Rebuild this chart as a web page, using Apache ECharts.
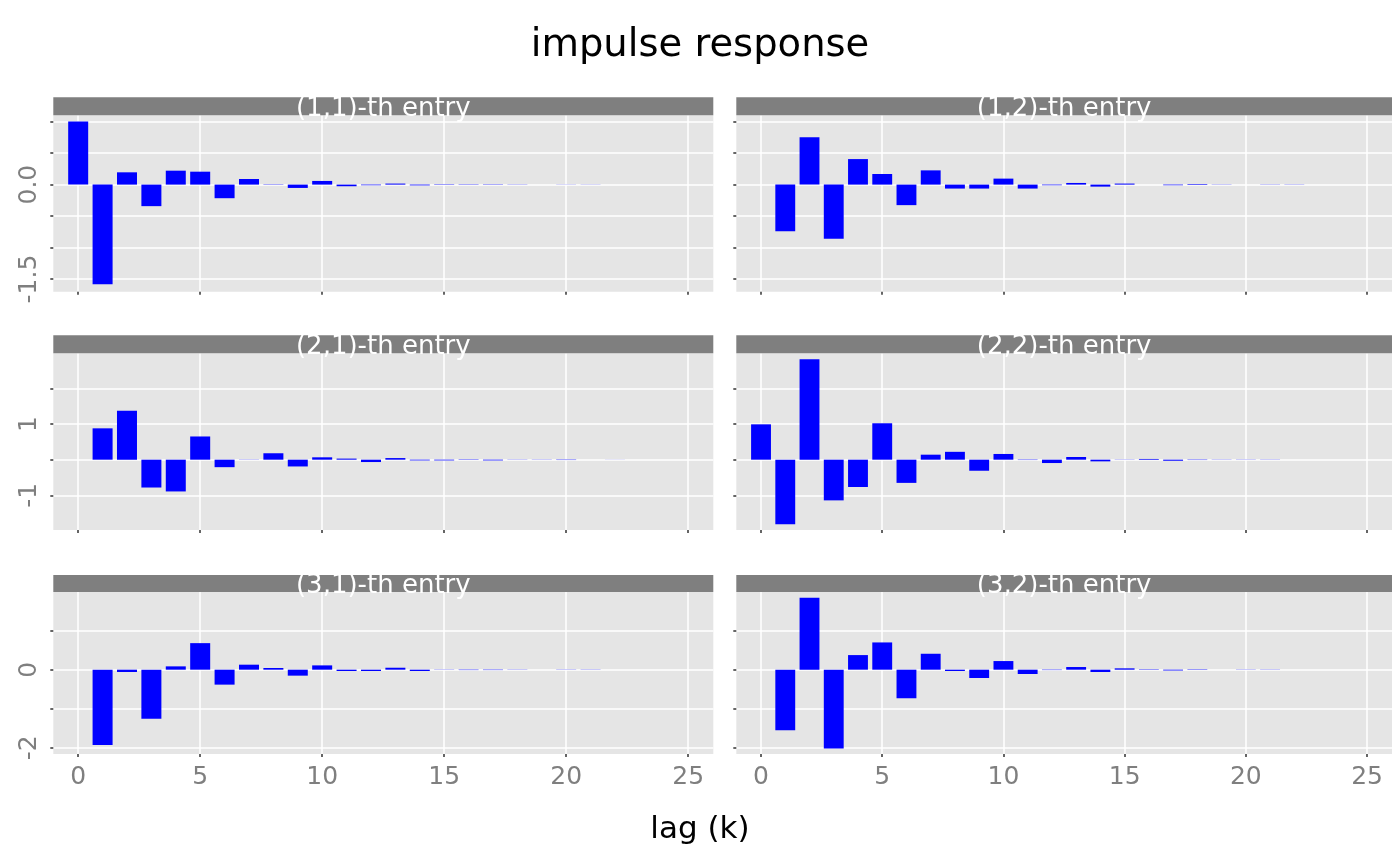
<!DOCTYPE html>
<html>
<head>
<meta charset="utf-8">
<script src="https://cdn.jsdelivr.net/npm/echarts@6/dist/echarts.min.js"></script>
<style>html,body{margin:0;padding:0;background:#ffffff}#chart{width:1400px;height:866px}</style>
</head>
<body>
<div id="chart"></div>
<script>
// ---------------- data ----------------
const lags = [0,1,2,3,4,5,6,7,8,9,10,11,12,13,14,15,16,17,18,19,20,21,22,23,24,25];

const entry11 = [1.00,-1.58,0.195,-0.342,0.221,0.205,-0.216,0.089,0.005,-0.053,0.058,-0.026,-0.010,0.016,-0.012,0.006,-0.005,0.005,0.003,0.000,-0.002,0.002,0.000,0.000,0.000,0.000];
const entry12 = [0.00,-0.742,0.753,-0.858,0.405,0.168,-0.326,0.226,-0.063,-0.063,0.095,-0.063,-0.010,0.026,-0.032,0.016,0.000,-0.010,0.010,0.003,0.000,0.003,-0.003,0.000,0.000,0.000];
const entry21 = [0.00,0.878,1.37,-0.78,-0.89,0.65,-0.21,0.005,0.18,-0.19,0.066,0.030,-0.066,0.045,-0.020,-0.020,0.010,-0.020,-0.005,-0.005,-0.010,0.000,0.002,0.000,0.000,0.000];
const entry22 = [0.99,-1.81,2.81,-1.14,-0.765,1.02,-0.65,0.14,0.22,-0.31,0.16,-0.010,-0.094,0.075,-0.047,0.005,0.020,-0.030,-0.010,0.005,0.005,0.005,0.000,0.000,0.000,0.000];
const entry31 = [0.00,-1.93,-0.06,-1.26,0.085,0.68,-0.383,0.128,0.043,-0.153,0.11,-0.034,-0.034,0.050,-0.034,0.005,-0.010,-0.010,0.005,0.000,0.005,0.005,0.000,0.000,0.000,0.000];
const entry32 = [0.00,-1.55,1.84,-2.02,0.374,0.698,-0.732,0.408,-0.034,-0.213,0.221,-0.110,-0.010,0.068,-0.060,0.034,0.010,-0.020,0.010,0.000,0.005,0.005,0.000,0.000,0.000,0.000];

const stripLabels = ['(1,1)-th entry','(1,2)-th entry','(2,1)-th entry','(2,2)-th entry','(3,1)-th entry','(3,2)-th entry'];
const titleText = 'impulse response';
const xAxisTitle = 'lag (k)';

const xTicks = [0,5,10,15,20,25];
const xLabels = ['0','5','10','15','20','25'];

const yTicksRow1 = [-1.5,-1,-0.5,0,0.5,1];
const yLabelValuesRow1 = [-1.5,0];
const yLabelTextRow1 = ['-1.5','0.0'];
const yTicksRow2 = [-1,0,1,2];
const yLabelValuesRow2 = [-1,1];
const yLabelTextRow2 = ['-1','1'];
const yTicksRow3 = [-2,-1,0,1];
const yLabelValuesRow3 = [-2,0];
const yLabelTextRow3 = ['-2','0'];

// ---------------- layout / style ----------------
const FONT = 'DejaVu Sans';
const cols = [{left:53.3,width:660},{left:736.3,width:655.7}];
const rows = [
  {top:115.3,height:176.4,stripTop:97.3,stripH:18,yMin:-1.70,yMax:1.10,step:0.5,ticks:yTicksRow1,lv:yLabelValuesRow1,lt:yLabelTextRow1},
  {top:353.3,height:176.7,stripTop:335.3,stripH:18,yMin:-1.97,yMax:2.98,step:1,ticks:yTicksRow2,lv:yLabelValuesRow2,lt:yLabelTextRow2},
  {top:592,height:162,stripTop:575,stripH:17,yMin:-2.16,yMax:1.99,step:1,ticks:yTicksRow3,lv:yLabelValuesRow3,lt:yLabelTextRow3}
];
const panelData = [entry11,entry12,entry21,entry22,entry31,entry32];
const xMin = -1.02, xMax = 26.03;

const grids = [], xAxes = [], yAxes = [], series = [], graphics = [];
rows.forEach((r, ri) => {
  cols.forEach((c, ci) => {
    const idx = ri*2 + ci;
    grids.push({left:c.left, top:r.top, width:c.width, height:r.height,
      show:true, backgroundColor:'#e5e5e5', borderWidth:0, containLabel:false});
    const bottomRow = ri === rows.length-1;
    xAxes.push({
      type:'value', gridIndex:idx, min:xMin, max:xMax, minInterval:5, maxInterval:5,
      axisLine:{show:false, onZero:false},
      axisTick:{show:true, inside:false, length:3, lineStyle:{color:'#333333', width:1.5}, customValues:xTicks},
      axisLabel:{show:bottomRow, customValues:xTicks, margin:11, color:'#7f7f7f', fontSize:25, lineHeight:25, fontFamily:FONT,
        formatter: v => { const i = xTicks.indexOf(Math.round(v*1000)/1000); return i>=0 ? xLabels[i] : ''; }},
      splitLine:{show:true, lineStyle:{color:'#ffffff', width:1.5}}
    });
    yAxes.push({
      type:'value', gridIndex:idx, min:r.yMin, max:r.yMax, minInterval:r.step, maxInterval:r.step,
      axisLine:{show:false, onZero:false},
      axisTick:{show:true, inside:false, length:3, lineStyle:{color:'#333333', width:1.5}, customValues:r.ticks},
      axisLabel:{show:ci===0, customValues:r.lv, rotate:90, margin:11, color:'#7f7f7f', fontSize:25, lineHeight:25, fontFamily:FONT,
        formatter: v => { const i = r.lv.indexOf(Math.round(v*1000)/1000); return i>=0 ? r.lt[i] : ''; }},
      splitLine:{show:true, lineStyle:{color:'#ffffff', width:1.5}}
    });
    series.push({
      type:'bar', xAxisIndex:idx, yAxisIndex:idx, barWidth:'82%',
      itemStyle:{color:'#0000ff'},
      data: lags.map((k, j) => [k, panelData[idx][j]])
    });
    graphics.push({type:'rect', shape:{x:c.left, y:r.stripTop, width:c.width, height:r.stripH},
      style:{fill:'#7f7f7f'}, z:10});
    graphics.push({type:'text', x:c.left + c.width/2, y:r.stripTop + r.stripH/2 + 3, z:11,
      style:{text:stripLabels[idx], fill:'#ffffff', font:'26px "DejaVu Sans"',
        textAlign:'center', align:'center', textVerticalAlign:'middle', verticalAlign:'middle'}});
  });
});

const chart = echarts.init(document.getElementById('chart'), null, {renderer:'canvas'});
chart.setOption({
  animation:false,
  backgroundColor:'#ffffff',
  title:[
    {text:titleText, left:'center', top:26, padding:0,
      textStyle:{fontFamily:FONT, fontSize:38.5, lineHeight:39, fontWeight:'normal', color:'#000000'}},
    {text:xAxisTitle, left:'center', top:814, padding:0,
      textStyle:{fontFamily:FONT, fontSize:31, lineHeight:32, fontWeight:'normal', color:'#000000'}}
  ],
  grid:grids, xAxis:xAxes, yAxis:yAxes, series:series, graphic:graphics
});
</script>
</body>
</html>
